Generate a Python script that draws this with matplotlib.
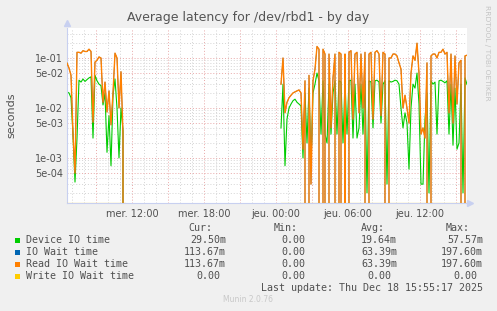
import numpy as np
import matplotlib
matplotlib.use("Agg")
import matplotlib.pyplot as plt
from matplotlib.patches import Rectangle

# time axis in hours since Wed 00:00, one sample every 10 minutes
step_h = 10 / 60
first_start = 6 + 35 / 60          # mer. 06:35
last_end = 24 + 15 + 55 / 60       # jeu. 15:55

# first burst (Wed morning), seconds
device_a = [0.021, 0.02, 0.016, 0.0029, 0.00033, 0.0025, 0.036, 0.033, 0.038, 0.034,
            0.037, 0.04, 0.042, 0.0025, 0.045, 0.035, 0.03, 0.028, 0.0115, 0.02,
            0.0013, 0.007, 0.0007, 0.018, 0.038, 0.01, 0.001, 0.01, 0.0035, 0.0]
read_a = [0.079, 0.063, 0.045, 0.003, 0.0005, 0.13, 0.13, 0.125, 0.14, 0.135,
          0.135, 0.15, 0.135, 0.0052, 0.083, 0.09, 0.105, 0.1, 0.013, 0.033,
          0.0083, 0.022, 0.0046, 0.02, 0.125, 0.1, 0.01, 0.053, 0.003, 0.0]

# second burst (Thu), seconds
device_b = [0.004, 0.03, 0.0007, 0.006, 0.01, 0.012, 0.014, 0.015, 0.013, 0.012,
            0.011, 0.001, 0.02, 0.002, 0.025, 0.0008, 0.02, 0.03, 0.05, 0.035,
            0.003, 0.035, 0.003, 0.002, 0.03, 0.003, 0.02, 0.035, 0.003, 0.035,
            0.033, 0.002, 0.035, 0.003, 0.035, 0.036, 0.0025, 0.03, 0.0025, 0.004,
            0.03, 0.003, 0.035, 0.0002, 0.035, 0.033, 0.004, 0.035, 0.036, 0.033,
            0.005, 0.03, 0.035, 0.0003, 0.035, 0.033, 0.034, 0.036, 0.035, 0.03,
            0.01, 0.004, 0.008, 0.005, 0.0006, 0.01, 0.03, 0.025, 0.05, 0.012,
            0.0003, 0.0003, 0.006, 0.02, 0.0002, 0.035, 0.03, 0.033, 0.003, 0.035,
            0.036, 0.034, 0.032, 0.035, 0.003, 0.03, 0.0018, 0.025, 0.0015, 0.002,
            0.03, 0.0002, 0.04, 0.0295]
read_b = [0.03, 0.1, 0.008, 0.013, 0.016, 0.018, 0.02, 0.021, 0.022, 0.023,
          0.02, 0.0015, 0.035, 0.0, 0.045, 0.0003, 0.035, 0.06, 0.17, 0.15,
          0.0, 0.15, 0.12, 0.0, 0.12, 0.004, 0.04, 0.12, 0.0, 0.13,
          0.12, 0.0, 0.12, 0.0, 0.13, 0.14, 0.006, 0.12, 0.13, 0.008,
          0.12, 0.01, 0.13, 0.0, 0.12, 0.13, 0.006, 0.13, 0.14, 0.12,
          0.007, 0.13, 0.12, 0.0, 0.1, 0.1, 0.12, 0.12, 0.11, 0.08,
          0.06, 0.01, 0.018, 0.01, 0.005, 0.05, 0.11, 0.09, 0.198, 0.05,
          0.003, 0.004, 0.0025, 0.08, 0.0, 0.11, 0.12, 0.12, 0.1, 0.13,
          0.13, 0.15, 0.12, 0.13, 0.008, 0.12, 0.005, 0.11, 0.012, 0.08,
          0.09, 0.0, 0.11, 0.1137]

series_names = ["Device IO time", "IO Wait time", "Read IO Wait time", "Write IO Wait time"]
series_colors = ["#00CC00", "#0066B3", "#FF8000", "#FFCC00"]
stats = [["29.50m", "0.00", "19.64m", "57.57m"],
         ["113.67m", "0.00", "63.39m", "197.60m"],
         ["113.67m", "0.00", "63.39m", "197.60m"],
         ["0.00", "0.00", "0.00", "0.00"]]
tick_hours = [12, 18, 24, 30, 36]
tick_labels = ["mer. 12:00", "mer. 18:00", "jeu. 00:00", "jeu. 06:00", "jeu. 12:00"]
ytick_vals = [1e-1, 5e-2, 1e-2, 5e-3, 1e-3, 5e-4]
ytick_labels = ["1e-01", "5e-02", "1e-02", "5e-03", "1e-03", "5e-04"]

# glue the two bursts with a NaN gap in between
t_a = first_start + step_h * np.arange(len(device_a))
t_b = last_end - step_h * np.arange(len(device_b))[::-1]
t = np.concatenate([t_a, [t_a[-1] + step_h], t_b])
device = np.concatenate([device_a, [np.nan], device_b])
read = np.concatenate([read_a, [np.nan], read_b])
iowait = read.copy()
write = np.where(np.isnan(read), np.nan, 0.0)

W, H = 497, 311
bg = "#F0F0F0"
txt = "#505050"
fig = plt.figure(figsize=(W / 100, H / 100), dpi=100, facecolor=bg)
ax = fig.add_axes([67 / W, 1 - 203 / H, 400 / W, 175 / H])
ax.set_facecolor("white")
ax.set_yscale("log")
ymin, ymax = 10 ** -3.9, 10 ** -0.4
ax.set_ylim(ymin, ymax)
ax.set_xlim(first_start, first_start + 400 / 12)

# grid: hours grey, every 3h red; log minors grey, 1 and 5 red
for h in range(7, 40):
    c = "#e8a8a8" if h % 3 == 0 else "#d4d4d4"
    ax.axvline(h, color=c, lw=0.7, dashes=(1, 2), zorder=0)
for d in range(-4, 0):
    for m in range(1, 10):
        v = m * 10.0 ** d
        if ymin < v < ymax:
            c = "#e8a8a8" if m in (1, 5) else "#d4d4d4"
            ax.axhline(v, color=c, lw=0.7, dashes=(1, 2), zorder=0)

ax.plot(t, device, color=series_colors[0], lw=0.8, zorder=2)
ax.plot(t, iowait, color=series_colors[1], lw=0.5, zorder=3)
ax.plot(t, read, color=series_colors[2], lw=1.0, zorder=4)
ax.plot(t, np.maximum(write, ymin * 1.02), color=series_colors[3], lw=0.9, zorder=5, alpha=0.7)

ax.set_xticks(tick_hours)
ax.set_xticklabels(tick_labels)
ax.set_yticks(ytick_vals)
ax.set_yticklabels(ytick_labels)
ax.yaxis.set_minor_locator(plt.NullLocator())
ax.tick_params(length=0, labelsize=7, colors=txt, pad=3)
ax.tick_params(axis="x", pad=4)

axis_c = "#c8d0f0"
for s in ("top", "right"):
    ax.spines[s].set_visible(False)
for s in ("left", "bottom"):
    ax.spines[s].set_color(axis_c)
    ax.spines[s].set_linewidth(0.8)
ax.plot([0], [1.03], marker="^", ms=4, color=axis_c, transform=ax.transAxes, clip_on=False)
ax.plot([1.008], [0], marker=">", ms=4, color=axis_c, transform=ax.transAxes, clip_on=False)


def px(x, y):
    return x / W, 1 - y / H


fig.text(*px(248, 18), "Average latency for /dev/rbd1 - by day", ha="center", va="center",
         fontsize=9, color="#555555")
fig.text(*px(11, 115), "seconds", rotation=90, ha="center", va="center", fontsize=8, color=txt)
fig.text(*px(487, 53), "RRDTOOL / TOBI OETIKER", rotation=270, ha="center", va="center",
         fontsize=5.4, color="#c4c4c4")

mono = dict(family="DejaVu Sans Mono", fontsize=7.2, color=txt, va="center")
header_x = [212, 298, 385, 470]
value_x = [226, 311, 397, 483]
for name, hx in zip(["Cur:", "Min:", "Avg:", "Max:"], header_x):
    fig.text(*px(hx, 228), name, ha="right", **mono)
row_y = [240, 252, 264, 276]
for name, col, row, y in zip(series_names, series_colors, stats, row_y):
    fig.patches.append(Rectangle(px(14.5, y + 2.5), 5 / W, 5 / H, transform=fig.transFigure,
                                 facecolor=col, edgecolor="none"))
    fig.text(*px(26, y), name, ha="left", **mono)
    for val, vx in zip(row, value_x):
        right = vx if val.endswith("m") else vx - 6
        fig.text(*px(right, y), val, ha="right", **mono)
fig.text(*px(483, 288), "Last update: Thu Dec 18 15:55:17 2025", ha="right", **mono)
fig.text(*px(248, 300), "Munin 2.0.76", ha="center", va="center", fontsize=5.5, color="#c8c8c8")

fig.savefig("out.png", dpi=100, facecolor=bg)
